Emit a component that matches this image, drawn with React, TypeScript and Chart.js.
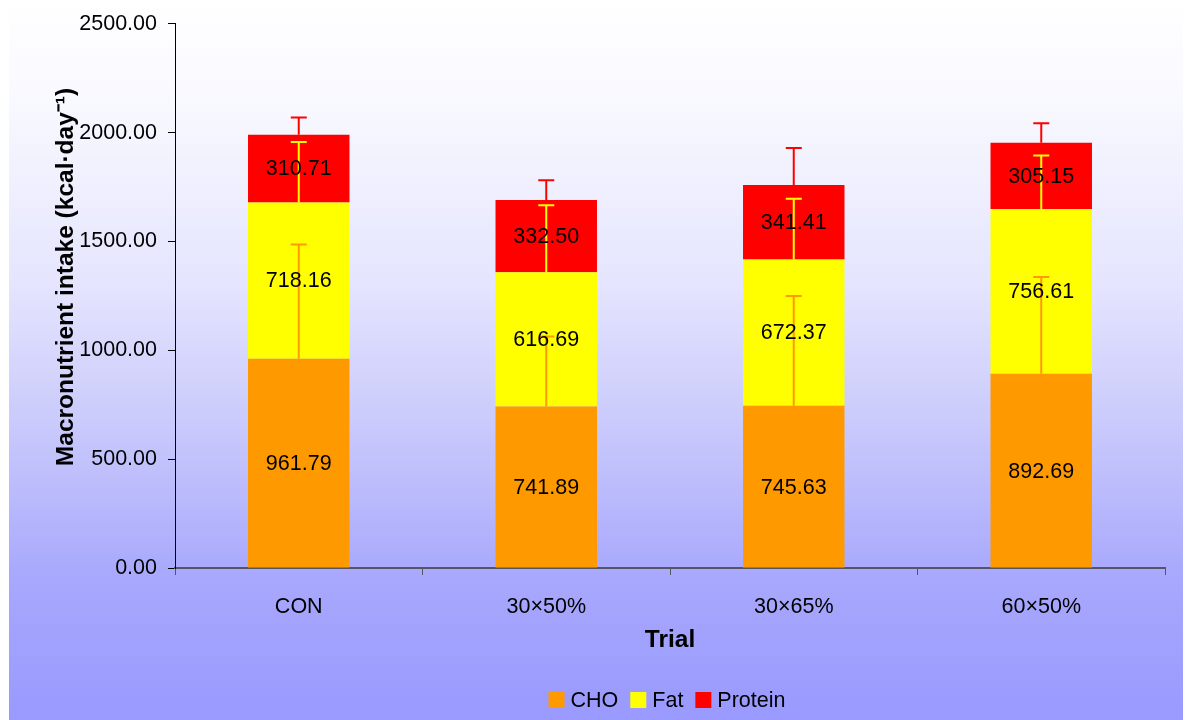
import React, { useEffect, useRef } from "react";
import { Chart, registerables } from "chart.js";

Chart.register(...registerables);

const categories = ["CON", "30×50%", "30×65%", "60×50%"];
const choValues = [961.79, 741.89, 745.63, 892.69];
const fatValues = [718.16, 616.69, 672.37, 756.61];
const proteinValues = [310.71, 332.5, 341.41, 305.15];
const choErrors = [525, 322, 504, 444];
const fatErrors = [277, 308, 279, 246];
const proteinErrors = [79, 90, 170, 89];
const yTicks = [0, 500, 1000, 1500, 2000, 2500];

const seriesNames = ["CHO", "Fat", "Protein"];
const seriesColors = ["#FF9900", "#FFFF00", "#FF0000"];
const yTitle = "Macronutrient intake (kcal·day⁻¹)";

const FONT = "'Liberation Sans', Arial, Helvetica, sans-serif";

const bgPlugin = {
  id: "bgGradient",
  beforeDraw(chart: any) {
    const { ctx, width, height } = chart;
    const g = ctx.createLinearGradient(0, 0, 0, height);
    g.addColorStop(0, "#ffffff");
    g.addColorStop(0.15, "#f8f8ff");
    g.addColorStop(0.4, "#e4e4fe");
    g.addColorStop(0.6, "#c8c8fc");
    g.addColorStop(0.8, "#a8a8fd");
    g.addColorStop(1, "#9999ff");
    ctx.save();
    ctx.fillStyle = g;
    ctx.fillRect(1, 0, width - 1, height);
    ctx.restore();
  },
};

const legendAndTitlePlugin = {
  id: "customLegend",
  afterDraw(chart: any) {
    const { ctx } = chart;
    ctx.save();
    ctx.font = `21.5px ${FONT}`;
    ctx.textBaseline = "middle";
    ctx.textAlign = "left";
    const box = 16;
    const gapText = 6;
    const gapItem = 12;
    const widths = seriesNames.map((n) => box + gapText + ctx.measureText(n).width);
    const total = widths.reduce((a, b) => a + b, 0) + gapItem * (seriesNames.length - 1);
    const cx = 659;
    const cy = 700;
    let x = cx - total / 2;
    seriesNames.forEach((n, i) => {
      ctx.fillStyle = seriesColors[i];
      ctx.fillRect(x, cy - box / 2, box, box);
      ctx.fillStyle = "#000";
      ctx.fillText(n, x + box + gapText, cy + 1);
      x += widths[i] + gapItem;
    });
    // y axis title
    ctx.translate(58, 277);
    ctx.rotate(-Math.PI / 2);
    ctx.font = `bold 24.5px ${FONT}`;
    ctx.textAlign = "center";
    ctx.fillStyle = "#000";
    ctx.fillText(yTitle, 0, 0);
    ctx.restore();
  },
};

const errLabelPlugin = {
  id: "errLabels",
  afterDatasetsDraw(chart: any) {
    const { ctx } = chart;
    const yScale = chart.scales.y;
    const values = [choValues, fatValues, proteinValues];
    const errs = [choErrors, fatErrors, proteinErrors];
    ctx.save();
    for (let d = 0; d < 3; d++) {
      const meta = chart.getDatasetMeta(d);
      meta.data.forEach((bar: any, j: number) => {
        let cum = 0;
        for (let k = 0; k <= d; k++) cum += values[k][j];
        const yTop = yScale.getPixelForValue(cum);
        const yCap = yScale.getPixelForValue(cum + errs[d][j]);
        ctx.strokeStyle = seriesColors[d];
        ctx.lineWidth = 2;
        ctx.beginPath();
        ctx.moveTo(bar.x, yTop);
        ctx.lineTo(bar.x, yCap);
        ctx.moveTo(bar.x - 8, yCap);
        ctx.lineTo(bar.x + 8, yCap);
        ctx.stroke();
      });
    }
    ctx.fillStyle = "#000";
    ctx.font = `21.5px ${FONT}`;
    ctx.textAlign = "center";
    ctx.textBaseline = "middle";
    for (let d = 0; d < 3; d++) {
      const meta = chart.getDatasetMeta(d);
      meta.data.forEach((bar: any, j: number) => {
        ctx.fillText(values[d][j].toFixed(2), bar.x, (bar.y + bar.base) / 2 + 1);
      });
    }
    ctx.restore();
  },
};

export default function App() {
  const ref = useRef<HTMLCanvasElement>(null);
  useEffect(() => {
    if (!ref.current) return;
    Chart.defaults.font.family = FONT;
    const chart = new Chart(ref.current, {
      type: "bar",
      data: {
        labels: categories,
        datasets: [choValues, fatValues, proteinValues].map((v, i) => ({
          label: seriesNames[i],
          data: v,
          backgroundColor: seriesColors[i],
          borderWidth: 0,
          barPercentage: 0.41,
          categoryPercentage: 1,
        })),
      },
      options: {
        animation: false,
        responsive: false,
        layout: { padding: { left: 0, right: 21, top: 22, bottom: 40 } },
        plugins: {
          legend: { display: false },
          tooltip: { enabled: false },
        },
        scales: {
          x: {
            stacked: true,
            afterFit: (s: any) => {
              s.height = 112;
            },
            grid: {
              offset: true,
              drawOnChartArea: false,
              drawTicks: true,
              tickLength: 7,
              color: "#555566",
            },
            border: { display: true, color: "#555566", width: 2 },
            ticks: { color: "#000", font: { size: 21.5, family: FONT }, padding: 19 },
            title: {
              display: true,
              text: "Trial",
              color: "#000",
              font: { size: 24.5, weight: "bold", family: FONT },
              padding: { top: 0, bottom: 25 },
            },
          },
          y: {
            stacked: true,
            min: 0,
            max: 2500,
            afterFit: (s: any) => {
              s.width = 167;
            },
            afterBuildTicks: (s: any) => {
              s.ticks = yTicks.map((v) => ({ value: v }));
            },
            grid: {
              drawOnChartArea: false,
              drawTicks: true,
              tickLength: 7,
              color: "#000",
            },
            border: { display: true, color: "#000", width: 1 },
            ticks: {
              color: "#000",
              font: { size: 21.5, family: FONT },
              padding: 11,
              callback: (v: any) => Number(v).toFixed(2),
            },
            title: { display: false },
          },
        },
      },
      plugins: [bgPlugin, errLabelPlugin, legendAndTitlePlugin],
    });
    return () => chart.destroy();
  }, []);
  return (
    <canvas
      ref={ref}
      width={1178}
      height={720}
      style={{ display: "block", marginTop: -8 }}
    />
  );
}
